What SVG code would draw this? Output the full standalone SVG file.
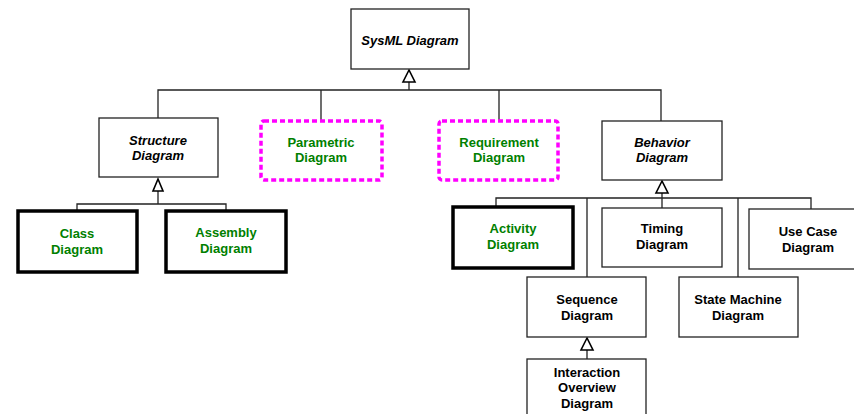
<svg xmlns="http://www.w3.org/2000/svg" width="854" height="414" viewBox="0 0 854 414">
<style>
.box{fill:#fff;stroke:#222;stroke-width:1.3}
.thick{fill:#fff;stroke:#000;stroke-width:3.5}
.dash{fill:#fff;stroke:#ff00ff;stroke-width:3.5;stroke-dasharray:5 3}
.t{font-family:"Liberation Sans",Arial,sans-serif;font-weight:bold;font-size:13px;text-anchor:middle;fill:#000}
.it{font-style:italic}
.g{fill:#008000}
.ln{fill:none;stroke:#222;stroke-width:1.3}
.tri{fill:#fff;stroke:#000;stroke-width:1.6}
</style>
<rect width="854" height="414" fill="#fff"/>
<g id="connectors">
<path class="ln" d="M158 118V90H661V121M321 90V121M499 90V121M409 90V82"/>
<polygon class="tri" points="409,70 403,82 415,82"/>
<path class="ln" d="M77 211V204H226V211M158 204V191"/>
<polygon class="tri" points="158,179 153,191 163,191"/>
<path class="ln" d="M496 207V198H811V209M662 193V208M587 198V277M738 198V277"/>
<polygon class="tri" points="662,181 656,193 668,193"/>
<path class="ln" d="M587 350V359"/>
<polygon class="tri" points="587,338 581,350 593,350"/>
</g>
<g id="sysml"><rect class="box" x="351" y="9" width="118" height="60"/><text class="t it" x="410" y="45">SysML Diagram</text></g>
<g id="structure"><rect class="box" x="99" y="118" width="119" height="59"/><text class="t it" x="158" y="145">Structure</text><text class="t it" x="158" y="160">Diagram</text></g>
<g id="parametric"><rect class="dash" x="261" y="121" width="121" height="59" rx="3"/><text class="t g" x="321" y="147">Parametric</text><text class="t g" x="321" y="162">Diagram</text></g>
<g id="requirement"><rect class="dash" x="439" y="121" width="119" height="59" rx="3"/><text class="t g" x="499" y="147">Requirement</text><text class="t g" x="499" y="162">Diagram</text></g>
<g id="behavior"><rect class="box" x="602" y="121" width="120" height="59"/><text class="t it" x="662" y="147">Behavior</text><text class="t it" x="662" y="162">Diagram</text></g>
<g id="class"><rect class="thick" x="18" y="211" width="119" height="61"/><text class="t g" x="77" y="238">Class</text><text class="t g" x="77" y="254">Diagram</text></g>
<g id="assembly"><rect class="thick" x="166" y="211" width="120" height="61"/><text class="t g" x="226" y="237">Assembly</text><text class="t g" x="226" y="253">Diagram</text></g>
<g id="activity"><rect class="thick" x="453" y="207" width="120" height="61"/><text class="t g" x="513" y="233">Activity</text><text class="t g" x="513" y="249">Diagram</text></g>
<g id="timing"><rect class="box" x="602" y="208" width="120" height="59"/><text class="t" x="662" y="233">Timing</text><text class="t" x="662" y="249">Diagram</text></g>
<g id="usecase"><rect class="box" x="749" y="209" width="120" height="60"/><text class="t" x="808" y="236">Use Case</text><text class="t" x="808" y="252">Diagram</text></g>
<g id="sequence"><rect class="box" x="527" y="277" width="119" height="60"/><text class="t" x="587" y="304">Sequence</text><text class="t" x="587" y="320">Diagram</text></g>
<g id="statemachine"><rect class="box" x="679" y="277" width="119" height="60"/><text class="t" x="738" y="304">State Machine</text><text class="t" x="738" y="320">Diagram</text></g>
<g id="interaction"><rect class="box" x="527" y="359" width="119" height="70"/><text class="t" x="587" y="377">Interaction</text><text class="t" x="587" y="392">Overview</text><text class="t" x="587" y="408">Diagram</text></g>
</svg>
